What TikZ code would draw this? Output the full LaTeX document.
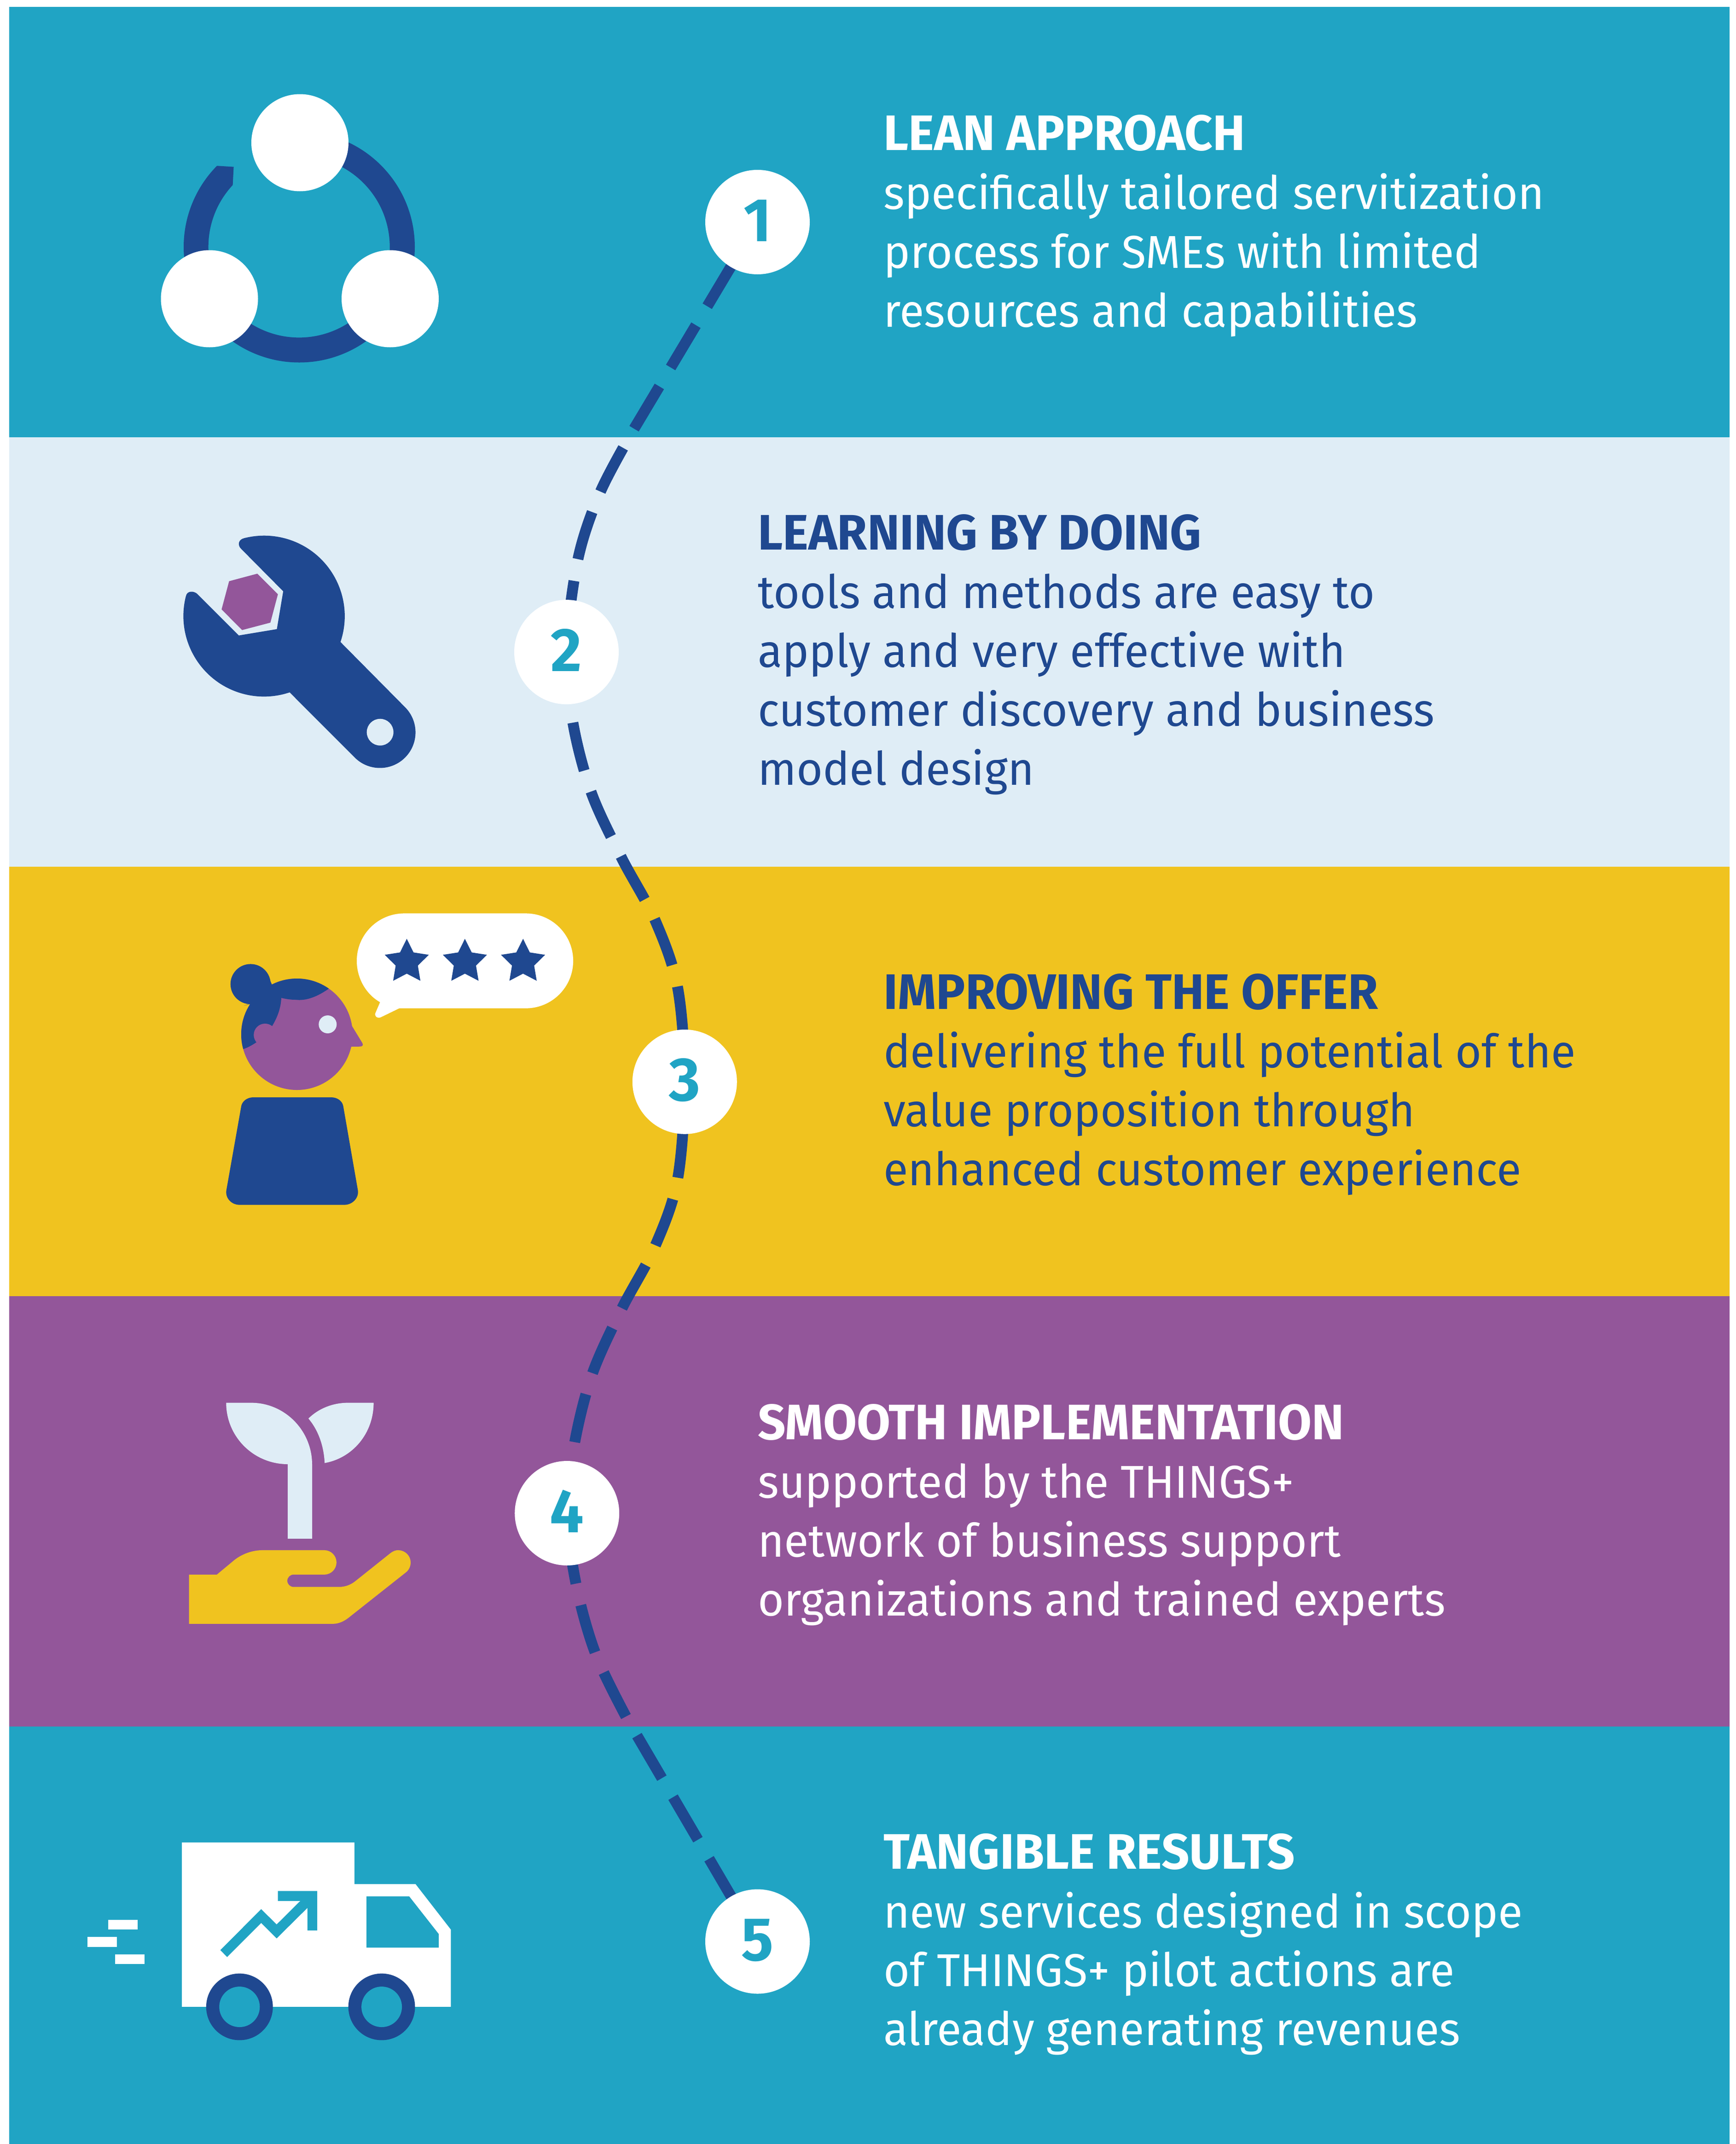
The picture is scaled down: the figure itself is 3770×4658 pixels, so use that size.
\documentclass[tikz,border=0pt]{standalone}
\usepackage{fontspec}
\setmainfont[FakeStretch=0.976]{Fira Sans}
\usetikzlibrary{shapes.geometric}
\definecolor{teal}{HTML}{20A4C4}
\definecolor{pale}{HTML}{DFEDF6}
\definecolor{gold}{HTML}{F0C31F}
\definecolor{plum}{HTML}{93569A}
\definecolor{navy}{HTML}{1F4890}
\pgfdeclarelayer{bands}\pgfdeclarelayer{links}
\pgfsetlayers{bands,links,main}
\newcommand{\hdline}[1]{{\fontsize{61.7}{72.8}\selectfont\bfseries #1}}
\newcommand{\stacklines}[1]{\begin{tabular}[t]{@{}l@{}}#1\end{tabular}}
\tikzset{
 x=0.02cm,y=-0.02cm,
 numdot/.style={circle,fill=white,minimum size=129.2pt,inner sep=0,text=teal,text height=51.8pt,text depth=4.5pt,font=\fontsize{76}{76}\selectfont\bfseries},
 blurb/.style={anchor=base west,inner sep=0,font=\fontsize{57}{72.83}\selectfont},
 trail/.style={draw=navy,line width=13.4pt,dash pattern=on 60.9pt off 27.3pt,dash phase=27.9pt},
}
\begin{document}
\begin{tikzpicture}
\useasboundingbox (0,0) rectangle (3770,4658);
\begin{pgfonlayer}{bands}
\fill[white] (0,0) rectangle (3770,4658);
\fill[teal] (20,15) rectangle (3757,950);
\fill[pale] (20,950) rectangle (3757,1883);
\fill[gold] (20,1883) rectangle (3757,2816);
\fill[plum] (20,2816) rectangle (3757,3751);
\fill[teal] (20,3751) rectangle (3757,4658);
\end{pgfonlayer}
% numbered nodes
\node[numdot] (n1) at (1645.5,482.5) {1};
\node[numdot] (n2) at (1230.5,1416.6) {2};
\node[numdot] (n3) at (1487.3,2350.3) {3};
\node[numdot] (n4) at (1231.7,3287.5) {4};
\node[numdot] (n5) at (1645.5,4218) {5};
\begin{pgfonlayer}{links}
\draw[trail] (n1.center) -- (1377,932) -- plot[smooth,tension=0.55] coordinates {(1377,932) (1304,1068.8) (1255,1216.7) (n2.center) (1245,1573) (1284.7,1722.7) (1350,1863.3) (1423.3,2000) (1472.3,2147.3) (n3.center) (1472,2561.2) (1422.7,2707.9) (1349.7,2845) (1286,2986.4) (1247.7,3137.3) (n4.center) (1252.3,3446.4) (1294.7,3595.5) (1362.7,3734.9)} -- (n5.center);
\end{pgfonlayer}
% text
\node[blurb,text=white] (t1) at (1919,326.8) {\stacklines{\hdline{LEAN APPROACH}\\specifically tailored servitization\\process for SMEs with limited\\resources and capabilities}};
\node[blurb,text=navy] (t2) at (1646,1194) {\stacklines{\hdline{LEARNING BY DOING}\\tools and methods are easy to\\apply and very effective with\\customer discovery and business\\model design}};
\node[blurb,text=navy] (t3) at (1919,2192) {\stacklines{\hdline{IMPROVING THE OFFER}\\delivering the full potential of the\\value proposition through\\enhanced customer experience}};
\node[blurb,text=white] (t4) at (1646,3127) {\stacklines{\hdline{SMOOTH IMPLEMENTATION}\\supported by the THINGS+\\network of business support\\organizations and trained experts}};
\node[blurb,text=white] (t5) at (1919,4060) {\stacklines{\hdline{TANGIBLE RESULTS}\\new services designed in scope\\of THINGS+ pilot actions are\\already generating revenues}};
% icon 1
\fill[navy] (650,536.5) ++(-90:251) arc (-90:224.6:251) -- (507.6,362.5) -- (505.6,402) arc (223:-90:197) -- cycle;
\fill[white] (651.5,310) circle[radius=105.5];
\fill[white] (455,649) circle[radius=105.5];
\fill[white] (847.5,649) circle[radius=105.5];
% icon 2
\fill[navy] (403.6,1296) arc (194:71.4:175) -- (771,1646.2) arc (134.6:-44:77.3) -- (739.6,1394.8) arc (18.7:-104.4:175)
 .. controls (518,1172) and (515,1184) .. (524.1,1192.7) -- (615.2,1284.6) -- (601.4,1366.8) -- (518.8,1380.6) -- (428.5,1290.3)
 .. controls (422,1284) and (406,1282) .. cycle;
\fill[pale] (825.7,1590.7) circle[radius=29];
\fill[plum] (559,1246.3) -- (603.7,1291.1) -- (587.3,1352.7) -- (526,1368.8) -- (481.3,1324) -- (497.7,1262.7) -- cycle;
% icon 3
\fill[plum] (763.3,2226.9) -- (787,2265.9) .. controls (790,2271) and (787,2273.7) .. (781.7,2273.7) -- (762.7,2274) -- (645,2247) -- cycle;
\fill[plum] (645,2247) circle[radius=121];
\begin{scope}
\clip (645,2247) circle[radius=121];
\fill[navy] (714,2148) .. controls (690,2165) and (665,2175) .. (642,2172) .. controls (630,2172) and (620,2170) .. (611,2168) .. controls (610,2190) and (603,2210) .. (590,2231) -- (556,2265) .. controls (547,2271) and (538,2276) .. (529,2279) -- (500,2279) -- (500,2100) -- (714,2100) -- cycle;
\end{scope}
\fill[plum] (575.7,2248.4) circle[radius=24.5];
\fill[navy] (544.3,2138) circle[radius=43.6];
\fill[navy] (580,2115) -- (600,2160) -- (530,2185) -- (544,2181) -- cycle;
\fill[pale] (711.8,2225.5) circle[radius=19.5];
\fill[navy] (550.3,2384) -- (719.4,2384) .. controls (733,2384) and (743,2392) .. (745.4,2402) -- (777.4,2586) .. controls (780,2602) and (766,2617.6) .. (748,2617.6) -- (520.5,2617.6) .. controls (502,2617.6) and (489,2602) .. (491.7,2586) -- (524.3,2402) .. controls (527,2392) and (537,2384) .. (550.3,2384) -- cycle;
\fill[white] (878,1984.4) -- (1142,1984.4) arc (-90:90:103.1) -- (867.3,2190.6) -- (826.7,2210.3) .. controls (819,2213) and (812,2207) .. (815.9,2200) -- (825.6,2177.3) .. controls (795,2160) and (775,2125) .. (775,2087.5) arc (180:270:103.1) -- cycle;
\foreach \cx in {883.6,1009.9,1136.2}
 \fill[navy,shift={(\cx,2090)}] (0,-50.4) -- (14.7,-20.8) -- (47.9,-15.6) -- (24.1,7.8) -- (29.6,40.8) -- (0,25.3) -- (-29.6,40.8) -- (-24.1,7.8) -- (-47.9,-15.6) -- (-14.7,-20.8) -- cycle;
% icon 4
\fill[pale] (491.3,3047.6) -- (545.6,3047.6) .. controls (618.6,3047.6) and (678,3108) .. (678,3181.8) -- (678,3342.8) -- (625.2,3342.8) -- (625.2,3181) .. controls (551.2,3181) and (491.3,3121.6) .. cycle;
\fill[pale] (811.6,3047.6) -- (756,3047.6) .. controls (723,3047.6) and (692,3060) .. (670,3081.8) .. controls (692,3108) and (703.5,3142) .. (705.2,3178.5) .. controls (765,3168) and (811.6,3115) .. cycle;
\fill[gold] (410.5,3421) -- (471,3421) -- (507.3,3390.8) .. controls (525,3376) and (548,3367.9) .. (570.5,3367.9) -- (704.4,3367.9) arc (-90:90:26.5) -- (637.5,3420.9) arc (270:90:13.4) -- (737,3447.7) .. controls (750,3447.7) and (762,3443) .. (771.4,3435.5) -- (848,3374.4) .. controls (855,3369) and (860,3367.9) .. (865,3367.9) .. controls (880,3367.9) and (892,3380) .. (892,3394.4) .. controls (892,3402) and (889,3410) .. (882.4,3415.5) -- (756,3515.5) .. controls (746,3523) and (735,3527.8) .. (723.6,3527.8) -- (410.5,3527.8) -- cycle;
% icon 5
\fill[white] (395.2,4002.7) -- (769.9,4002.7) -- (769.9,4093.3) -- (902.6,4093.3) -- (979.4,4192.3) -- (979.4,4359.7) -- (395.2,4359.7) -- cycle;
\fill[teal] (796.2,4120) -- (888.9,4120) -- (953,4201.7) -- (953,4231.3) -- (796.2,4231.3) -- cycle;
\fill[navy] (520.3,4360) circle[radius=72.4];
\fill[teal] (520.3,4360) circle[radius=44];
\fill[navy] (829.1,4360) circle[radius=72.4];
\fill[teal] (829.1,4360) circle[radius=44];
\fill[white] (235,4170.7) rectangle (299.2,4192.3);
\fill[white] (190,4208.3) rectangle (254.2,4229.7);
\fill[white] (249.8,4245.7) rectangle (314,4267);
\fill[teal] (603.6,4108.3) -- (689.2,4108.3) -- (689.2,4194) -- (667.8,4194) -- (667.8,4145) -- (600.9,4211.3) -- (567.4,4177.7) -- (493.4,4251.7) -- (478.6,4236.7) -- (567.4,4147.7) -- (600.9,4181) -- (652.5,4129.7) -- (603.6,4129.7) -- cycle;
\end{tikzpicture}
\end{document}
